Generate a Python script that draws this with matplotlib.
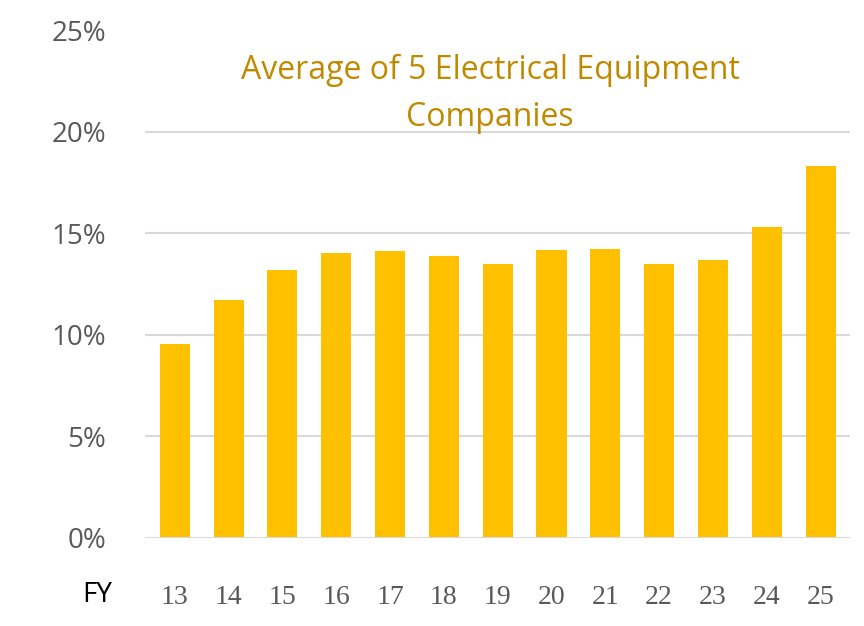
import matplotlib
matplotlib.use("Agg")
import matplotlib.pyplot as plt

years = ["13","14","15","16","17","18","19","20","21","22","23","24","25"]
values = [9.55, 11.7, 13.2, 14.0, 14.1, 13.85, 13.5, 14.15, 14.2, 13.5, 13.7, 15.3, 18.3]
yticks = [0, 5, 10, 15, 20, 25]
title = "Average of 5 Electrical Equipment\nCompanies"

fig = plt.figure(figsize=(8.64, 6.26), dpi=100)
ax = fig.add_axes([0.168, 0.141, 0.816, 0.811])
x = list(range(len(years)))
ax.bar(x, values, width=0.56, color="#FFC000", zorder=3)
for t in yticks[1:-1]:
    ax.axhline(t, color="#D9D9D9", lw=1.5, zorder=1)
ax.axhline(0, color="#D9D9D9", lw=1.5, zorder=4)
ax.set_ylim(0, 25)
ax.set_xlim(-0.55, len(years) - 0.45)
for s in ax.spines.values():
    s.set_visible(False)
ax.set_yticks(yticks)
ax.set_yticklabels([f"{t}%" for t in yticks], fontsize=20, color="#595959", family="Open Sans")
ax.set_xticks(x)
ax.set_xticklabels(years, fontsize=20, color="#595959", family="Liberation Serif")
ax.tick_params(length=0)
ax.tick_params(axis="x", pad=34)
ax.tick_params(axis="y", pad=28)
fig.text(97/864, 1-595/626, "FY", fontsize=20, color="black", ha="center", va="center", family="Open Sans")
fig.text(490/864, 1-94/626, title, fontsize=23, color="#C08A00", ha="center", va="center",
         family="Open Sans", linespacing=1.55)
fig.savefig("out.png", dpi=100, facecolor="white")
